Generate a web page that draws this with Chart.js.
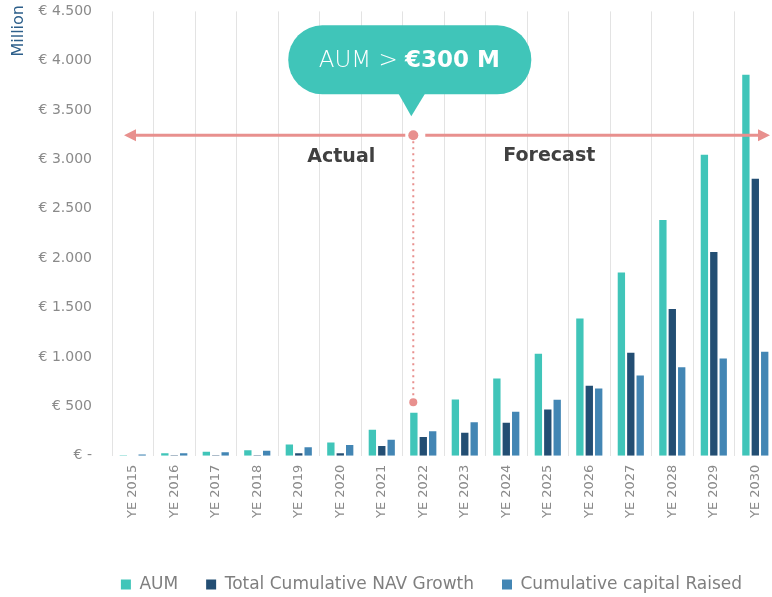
<!DOCTYPE html>
<html>
<head>
<meta charset="utf-8">
<script src="https://cdn.jsdelivr.net/npm/chart.js@4"></script>
<style>
  html, body { margin: 0; padding: 0; background: #fff; overflow: hidden; }
  #wrap { width: 780px; height: 606px; margin-top: -9px; }
</style>
</head>
<body>
<div id="wrap"><canvas id="grafico"></canvas></div>
<script>
const anos = ['YE 2015', 'YE 2016', 'YE 2017', 'YE 2018', 'YE 2019', 'YE 2020', 'YE 2021', 'YE 2022',
  'YE 2023', 'YE 2024', 'YE 2025', 'YE 2026', 'YE 2027', 'YE 2028', 'YE 2029', 'YE 2030']
const aum = [5, 23, 40, 54, 114, 134, 263, 435, 569, 782, 1031, 1388, 1854, 2386, 3049, 3858]
const navGrowth = [0, 3, 5, 5, 23, 23, 97, 188, 233, 334, 468, 708, 1041, 1486, 2063, 2804]
const capitalRaised = [12, 23, 33, 50, 84, 107, 162, 246, 337, 445, 566, 680, 812, 896, 984, 1052]

const corAum = '#40C5B9'
const corNav = '#234E73'
const corCap = '#4386B4'
const corSeta = '#E8908E'
const fonte = "'DejaVu Sans', sans-serif"

// empurra a legenda um pouco para a direita, como no original
const legendaDireita = {
  id: 'legendaDireita',
  afterLayout(chart) {
    chart.legend.left += 74
  }
}

// Seta Actual / Forecast, balão AUM > €300 M e título "Million"
const anotacoes = {
  id: 'anotacoes',
  afterDatasetsDraw(chart) {
    const { ctx, chartArea, scales: { x, y } } = chart
    const xDiv = x.getPixelForValue(7) - 10
    const yLinha = y.getPixelForValue(3245)
    ctx.save()

    // Million
    ctx.save()
    ctx.translate(19, 14)
    ctx.rotate(-Math.PI / 2)
    ctx.fillStyle = '#2D5F8A'
    ctx.font = "16px " + fonte
    ctx.textAlign = 'right'
    ctx.textBaseline = 'middle'
    ctx.fillText('Million', 0, 0)
    ctx.restore()

    ctx.strokeStyle = corSeta
    ctx.fillStyle = corSeta
    ctx.lineWidth = 3

    // linha esquerda
    ctx.beginPath()
    ctx.moveTo(chartArea.left + 20, yLinha)
    ctx.lineTo(xDiv - 8, yLinha)
    ctx.stroke()
    ctx.beginPath()
    ctx.moveTo(chartArea.left + 12, yLinha)
    ctx.lineTo(chartArea.left + 24, yLinha - 6)
    ctx.lineTo(chartArea.left + 24, yLinha + 6)
    ctx.closePath()
    ctx.fill()

    // linha direita
    const xFim = 768
    ctx.beginPath()
    ctx.moveTo(xDiv + 12, yLinha)
    ctx.lineTo(xFim - 8, yLinha)
    ctx.stroke()
    ctx.beginPath()
    ctx.moveTo(xFim + 2, yLinha)
    ctx.lineTo(xFim - 10, yLinha - 6)
    ctx.lineTo(xFim - 10, yLinha + 6)
    ctx.closePath()
    ctx.fill()

    // ponto e linha pontilhada
    ctx.beginPath()
    ctx.arc(xDiv, yLinha, 5, 0, Math.PI * 2)
    ctx.fill()
    const yBaixo = y.getPixelForValue(540)
    ctx.lineWidth = 2
    ctx.setLineDash([2, 4])
    ctx.beginPath()
    ctx.moveTo(xDiv, yLinha + 6)
    ctx.lineTo(xDiv, yBaixo)
    ctx.stroke()
    ctx.setLineDash([])
    ctx.beginPath()
    ctx.arc(xDiv, yBaixo, 4, 0, Math.PI * 2)
    ctx.fill()

    // balão
    const cx = xDiv - 4
    const bx = cx - 121, bw = 243, bt = yLinha - 110, bh = 69
    ctx.fillStyle = corAum
    ctx.beginPath()
    ctx.roundRect(bx, bt, bw, bh, 34)
    ctx.fill()
    ctx.beginPath()
    ctx.moveTo(xDiv - 15, bt + bh - 1)
    ctx.lineTo(xDiv + 12, bt + bh - 1)
    ctx.lineTo(xDiv - 2, bt + bh + 22)
    ctx.closePath()
    ctx.fill()

    ctx.fillStyle = '#fff'
    ctx.textBaseline = 'middle'
    ctx.textAlign = 'left'
    const t1 = 'AUM > '
    const t2 = '€300 M'
    ctx.font = "300 23px " + fonte
    const w1 = ctx.measureText(t1).width
    ctx.font = "bold 23px " + fonte
    const w2 = ctx.measureText(t2).width
    const tx = cx - (w1 + w2) / 2
    ctx.font = "300 23px " + fonte
    ctx.fillText(t1, tx, bt + bh / 2 + 1)
    ctx.font = "bold 23px " + fonte
    ctx.fillText(t2, tx + w1, bt + bh / 2 + 1)

    // Actual / Forecast
    ctx.fillStyle = '#404040'
    ctx.textAlign = 'center'
    ctx.font = "bold 19px " + fonte
    ctx.fillText('Actual', xDiv - 72, yLinha + 22)
    ctx.fillText('Forecast', xDiv + 136, yLinha + 21)
    ctx.restore()
  }
}

const ctxGrafico = document.getElementById('grafico')

new Chart(ctxGrafico, {
  type: 'bar',
  data: {
    labels: anos,
    datasets: [
      { label: 'AUM', data: aum, backgroundColor: corAum },
      { label: 'Total Cumulative NAV Growth', data: navGrowth, backgroundColor: corNav },
      { label: 'Cumulative capital Raised', data: capitalRaised, backgroundColor: corCap }
    ]
  },
  options: {
    responsive: true,
    maintainAspectRatio: false,
    animation: false,
    datasets: { bar: { categoryPercentage: 0.68, barPercentage: 0.78 } },
    layout: { padding: { top: -9, right: 3, left: 12, bottom: -6 } },
    scales: {
      x: {
        grid: { color: '#e3e3e3', lineWidth: 1, drawTicks: false },
        border: { display: false },
        title: {
          display: true,
          text: ' ',
          font: { size: 10 },
          padding: { top: 9, bottom: 0 }
        },
        ticks: {
          color: '#8a8a8a',
          font: { family: fonte, size: 13 },
          minRotation: 90,
          maxRotation: 90,
          padding: 9,
          autoSkip: false
        }
      },
      y: {
        min: 0,
        max: 4500,
        afterFit: scale => { scale.width = 100 },
        grid: { display: false },
        border: { display: false },
        ticks: {
          stepSize: 500,
          color: '#8a8a8a',
          padding: 12,
          font: { family: fonte, size: 14 },
          callback: v => v === 0 ? '€ -' : '€ ' + v.toLocaleString('de-DE')
        }
      }
    },
    plugins: {
      legend: {
        position: 'bottom',
        labels: {
          color: '#7f7f7f',
          font: { family: fonte, size: 17 },
          boxWidth: 10,
          boxHeight: 10,
          padding: 28
        }
      },
      tooltip: { enabled: false }
    }
  },
  plugins: [anotacoes, legendaDireita]
})
</script>
</body>
</html>
